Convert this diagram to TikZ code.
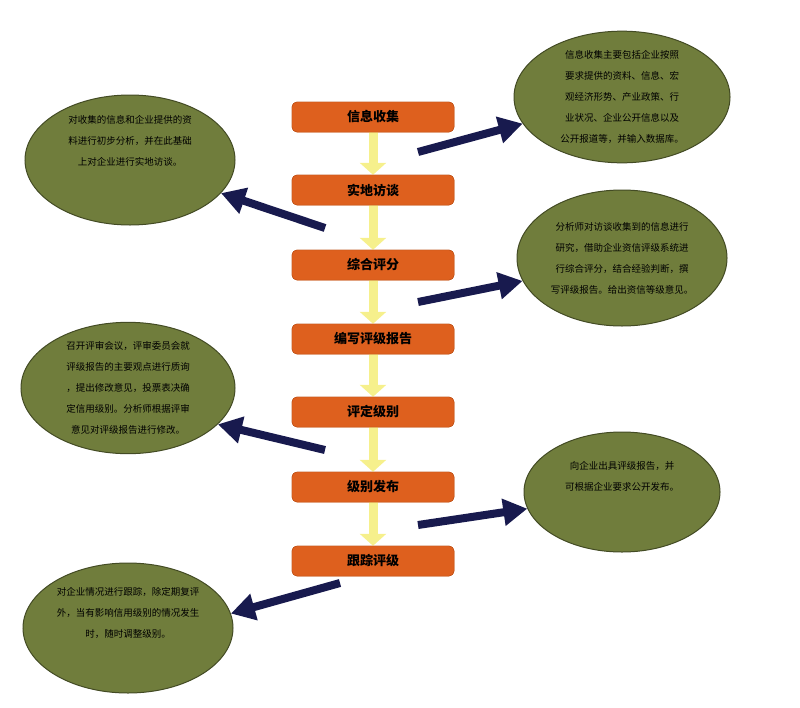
\documentclass[tikz,border=0pt]{standalone}
\usepackage{fontspec}
\setmainfont{Noto Sans CJK SC}
\usetikzlibrary{positioning, shapes.geometric, arrows.meta}
\definecolor{myorange}{RGB}{222,96,30}
\definecolor{myolive}{RGB}{112,125,60}
\definecolor{myyellow}{RGB}{246,240,140}
\definecolor{mynavy}{RGB}{24,26,78}
\tikzset{
  stepbox/.style={draw=myorange!85!black, fill=myorange, rounded corners=5,
    minimum width=162, minimum height=30, text=black,
    font=\fontsize{13}{15}\selectfont\bfseries},
  bubble/.style={ellipse, draw=myolive!60!black, fill=myolive, line width=1,
    align=center, inner sep=0, font=\fontsize{9.5}{21}\selectfont},
  down/.style={-{Triangle[length=12,width=26]}, line width=9, draw=myyellow},
  fat/.style={-{Triangle[length=24,width=26]}, line width=8, draw=mynavy}
}
\begin{document}
\begin{tikzpicture}[x=1pt,y=-1pt]
\useasboundingbox (0,0) rectangle (800,707);

\node [stepbox] (s1) at (373,117) {信息收集};
\node [stepbox] (s2) at (373,190) {实地访谈};
\node [stepbox] (s3) at (373,265) {综合评分};
\node [stepbox] (s4) at (373,339) {编写评级报告};
\node [stepbox] (s5) at (373,412) {评定级别};
\node [stepbox] (s6) at (373,487) {级别发布};
\node [stepbox] (s7) at (373,561) {跟踪评级};

% yellow arrows between steps
\foreach \a/\b in {s1/s2,s2/s3,s3/s4,s4/s5,s5/s6,s6/s7}
  \draw [down] (\a) -- (\b);
\foreach \s in {s1,s2,s3,s4,s5,s6,s7}
  \node [stepbox] at (\s) {};
\node [stepbox] at (s1) {信息收集};
\node [stepbox] at (s2) {实地访谈};
\node [stepbox] at (s3) {综合评分};
\node [stepbox] at (s4) {编写评级报告};
\node [stepbox] at (s5) {评定级别};
\node [stepbox] at (s6) {级别发布};
\node [stepbox] at (s7) {跟踪评级};

\node [bubble, minimum width=216, minimum height=130] (e1) at (622,97)
  {信息收集主要包括企业按照\\要求提供的资料、信息、宏\\观经济形势、产业政策、行\\业状况、企业公开信息以及\\公开报道等，并输入数据库。};
\node [bubble, minimum width=210, minimum height=130] (e2) at (130,160)
  {对收集的信息和企业提供的资\\料进行初步分析，并在此基础\\上对企业进行实地访谈。\\[18pt]};
\node [bubble, minimum width=210, minimum height=136] (e3) at (622,258)
  {分析师对访谈收集到的信息进行\\研究，借助企业资信评级系统进\\行综合评分，结合经验判断，撰\\写评级报告。给出资信等级意见。};
\node [bubble, minimum width=214, minimum height=126] (e4) at (128,388)
  {召开评审会议，评审委员会就\\评级报告的主要观点进行质询\\，提出修改意见，投票表决确\\定信用级别。分析师根据评审\\意见对评级报告进行修改。};
\node [bubble, minimum width=196, minimum height=120] (e5) at (622,492)
  {向企业出具评级报告，并\\可根据企业要求公开发布。\\[12pt]};
\node [bubble, minimum width=210, minimum height=130] (e6) at (128,628)
  {对企业情况进行跟踪，除定期复评\\外，当有影响信用级别的情况发生\\时，随时调整级别。\\[10pt]};

\coordinate (a1) at (418,152);
\coordinate (a2) at (325,228);
\coordinate (a3) at (418,302);
\coordinate (a4) at (325,450);
\coordinate (a5) at (418,525);
\coordinate (a6) at (340,583);
\draw [fat] (a1) -- (e1.195);
\draw [fat] (a2) -- (e2.-20);
\draw [fat] (a3) -- (e3.193);
\draw [fat] (a4) -- (e4.-22);
\draw [fat] (a5) -- (e5.190);
\draw [fat] (a6) -- (e6.8);
\end{tikzpicture}
\end{document}
